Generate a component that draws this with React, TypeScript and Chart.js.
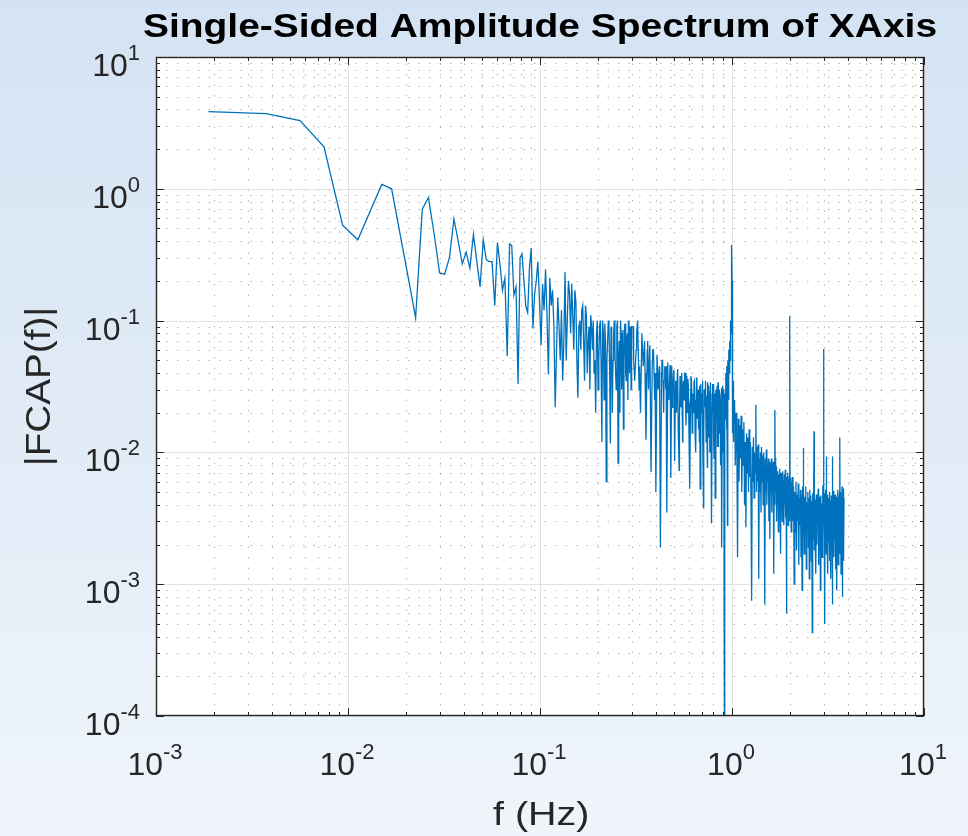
import { useEffect, useRef } from 'react';
import { Chart, registerables } from 'chart.js';

Chart.register(...registerables);

// ---------- data (FFT bins, bin width DF Hz) ----------
const DF = 0.001875;

const LOW_START = 1;
const LOW_STEP = 1;
const LOW_AMP = [
  3.85, 3.72, 3.29, 2.08, 0.53, 0.41, 0.69, 1.08, 1.0, 0.44,
  0.21, 0.105, 0.7, 0.86, 0.45, 0.23, 0.225, 0.3, 0.59, 0.4,
  0.27, 0.33, 0.25, 0.45, 0.28, 0.18, 0.41, 0.29, 0.28, 0.28,
  0.13, 0.39, 0.27, 0.17, 0.21, 0.054, 0.38, 0.37, 0.156, 0.18,
  0.033, 0.3, 0.32, 0.2, 0.128, 0.115, 0.25, 0.355, 0.087, 0.16,
  0.2, 0.28, 0.14, 0.065, 0.19, 0.12, 0.245, 0.11, 0.039, 0.21,
  0.13, 0.17, 0.09, 0.022,
];

const MID_START = 66;
const MID_STEP = 2;
const MID_AMP = [
  0.15, 0.05, 0.035, 0.235, 0.1, 0.16, 0.19, 0.06, 0.14, 0.026,
  0.1, 0.12, 0.07, 0.13, 0.04, 0.09, 0.11, 0.06, 0.04, 0.02,
  0.1, 0.05, 0.1, 0.012, 0.08, 0.095, 0.006, 0.07, 0.09, 0.0117,
  0.08, 0.05, 0.1, 0.04, 0.09, 0.0083, 0.07, 0.1, 0.03, 0.085,
  0.05, 0.095, 0.035, 0.08, 0.1, 0.04, 0.07, 0.09,
];

const MID_ODD_START = 67;
const MID_ODD_STEP = 2;
const MID_ODD_AMP = [
  0.09, 0.12, 0.07, 0.05, 0.2, 0.08, 0.11, 0.17, 0.05, 0.09,
  0.06, 0.13, 0.035, 0.11, 0.07, 0.03, 0.09, 0.1, 0.05, 0.08,
  0.03, 0.09, 0.045, 0.1, 0.025, 0.07, 0.05, 0.1, 0.04, 0.09,
  0.02, 0.08, 0.06, 0.03, 0.1, 0.05, 0.02, 0.08, 0.06, 0.015,
  0.09, 0.04, 0.07, 0.025, 0.06, 0.09, 0.03,
];

const UPPER_START = 163;
const UPPER_STEP = 3;
const UPPER_AMP = [
  0.09, 0.035, 0.06, 0.1, 0.03, 0.02, 0.08, 0.045, 0.07, 0.0125,
  0.06, 0.03, 0.065, 0.0071, 0.05, 0.06, 0.025, 0.005, 0.055, 0.03,
  0.045, 0.0019, 0.04, 0.05, 0.02, 0.045, 0.03, 0.0035, 0.048, 0.025,
  0.04, 0.0064, 0.045, 0.03, 0.042, 0.0086, 0.035, 0.02, 0.04, 0.015,
  0.0073, 0.038, 0.022, 0.04, 0.012, 0.035, 0.025, 0.04, 0.016, 0.038,
  0.02, 0.032, 0.011, 0.0053, 0.03, 0.036, 0.014, 0.028, 0.02, 0.035,
  0.013, 0.01, 0.037, 0.018, 0.03, 0.024, 0.012, 0.0053, 0.033, 0.02,
  0.028, 0.015, 0.0038, 0.03, 0.022, 0.035, 0.012, 0.027, 0.0077, 0.032,
  0.018, 0.026, 0.01, 0.034, 0.016, 0.0029, 0.028, 0.02, 0.033, 0.009,
  0.025, 0.0045, 0.03, 0.017, 0.024, 0.011, 0.034, 0.02, 0.014, 0.03,
  0.022, 0.008, 0.028, 0.0019, 0.025, 0.032, 0.012, 0.03, 0.00008, 0.028,
  0.018, 0.04, 0.022, 0.045, 0.0028, 0.05, 0.03, 0.06, 0.04, 0.07,
];

const UPPER_FILL_START = 164;
const UPPER_FILL_STEP = 6;
const UPPER_FILL_AMP = [
  0.05, 0.08, 0.045, 0.065, 0.04, 0.07, 0.035, 0.06, 0.04, 0.055,
  0.028, 0.05, 0.035, 0.045, 0.03, 0.046, 0.022, 0.04, 0.03, 0.043,
  0.018, 0.037, 0.026, 0.04, 0.02, 0.036, 0.024, 0.038, 0.017, 0.034,
  0.025, 0.036, 0.015, 0.032, 0.022, 0.035, 0.014, 0.03, 0.02, 0.034,
  0.013, 0.029, 0.021, 0.033, 0.012, 0.028, 0.019, 0.032, 0.011, 0.027,
  0.018, 0.031, 0.01, 0.028, 0.02, 0.036, 0.015, 0.042, 0.025, 0.055,
];

const PEAK_START = 521;
const PEAK_STEP = 1;
const PEAK_AMP = [
  0.05, 0.08, 0.06, 0.09, 0.07, 0.1, 0.08, 0.12, 0.09, 0.15,
  0.2, 0.3, 0.375, 0.2, 0.1, 0.06, 0.014, 0.04, 0.03, 0.035,
  0.02, 0.028, 0.012, 0.025, 0.018,
];

const HIGH_START = 550;
const HIGH_STEP = 5;
const HIGH_AMP = [
  0.025, 0.008, 0.02, 0.012, 0.0016, 0.018, 0.006, 0.016, 0.009, 0.019,
  0.005, 0.015, 0.008, 0.017, 0.004, 0.012, 0.0027, 0.014, 0.007, 0.013,
  0.005, 0.015, 0.0065, 0.012, 0.004, 0.00075, 0.011, 0.006, 0.013, 0.0045,
  0.01, 0.007, 0.012, 0.005, 0.011, 0.006, 0.0115, 0.0011, 0.009, 0.005,
  0.01, 0.0035, 0.011, 0.006, 0.0095, 0.004, 0.01, 0.0055, 0.0007, 0.009,
  0.005, 0.0105, 0.004, 0.008, 0.006, 0.009, 0.003, 0.0085, 0.0022, 0.0075,
  0.005, 0.009, 0.0035, 0.008, 0.0055, 0.0085, 0.0012, 0.0075, 0.004, 0.009,
  0.005, 0.0078, 0.003, 0.007, 0.0045, 0.0072, 0.0025, 0.0068, 0.004, 0.0075,
  0.0035, 0.0017, 0.007, 0.004, 0.0065, 0.003, 0.0072, 0.0045, 0.0062, 0.0028,
  0.0068, 0.004, 0.0074, 0.0032, 0.006, 0.0006, 0.0065, 0.0038, 0.007, 0.0028,
  0.0062, 0.0042, 0.0066, 0.003, 0.0058, 0.004, 0.0064, 0.0025, 0.006, 0.0036,
  0.0065,
];

const TOP_START = 1108;
const TOP_STEP = 8;
const TOP_AMP = [
  0.003, 0.0055, 0.001, 0.005, 0.0025, 0.006, 0.0018, 0.0048, 0.003, 0.0058,
  0.0014, 0.0045, 0.0028, 0.0052, 0.0016, 0.0048, 0.0009, 0.0055, 0.0025, 0.005,
  0.0017, 0.0046, 0.003, 0.0055, 0.0013, 0.0042, 0.0026, 0.005, 0.0019, 0.0045,
  0.0011, 0.0052, 0.0024, 0.0047, 0.0015, 0.0043, 0.00043, 0.0049, 0.0022, 0.0045,
  0.0018, 0.0051, 0.0027, 0.0044, 0.0012, 0.0048, 0.002, 0.0042, 0.0029, 0.0053,
  0.0014, 0.0046, 0.0021, 0.0043, 0.0009, 0.0047, 0.0025, 0.0041, 0.0016, 0.0056,
  0.0022, 0.0045, 0.0028, 0.0049, 0.0005, 0.0044, 0.0023, 0.0052, 0.0017, 0.0042,
  0.0026, 0.0048, 0.0012, 0.0045, 0.0021, 0.004, 0.0015, 0.005, 0.0024, 0.0043,
  0.0011, 0.0047, 0.0019, 0.0042, 0.0007, 0.0046, 0.0027, 0.0051, 0.0016, 0.0044,
  0.0022, 0.0048, 0.0013, 0.0041, 0.0025, 0.0046, 0.0009, 0.0043, 0.002, 0.0052,
  0.0014, 0.0045, 0.0027, 0.0049, 0.0017, 0.0042, 0.0023, 0.005, 0.0012, 0.0044,
  0.0026, 0.0055, 0.0008, 0.0047, 0.0021, 0.0053, 0.0015, 0.0045,
];

// isolated harmonic spikes
const SPIKE_BINS = [710, 893, 1066, 1254, 1426, 1600, 1653, 1775, 1945];
const SPIKE_AMP = [0.023, 0.021, 0.108, 0.0108, 0.0145, 0.061, 0.0093, 0.0093, 0.013];

const X_TICK_EXP = [-3, -2, -1, 0, 1];
const Y_TICK_EXP = [-4, -3, -2, -1, 0, 1];

const TITLE = 'Single-Sided Amplitude Spectrum of XAxis';
const X_TITLE = 'f (Hz)';
const Y_TITLE = '|FCAP(f)|';

// ---------- styles ----------
const FONT = '"Liberation Sans", Arial, Helvetica, sans-serif';
const LINE_COLOR = '#0072BD';
const AXIS_COLOR = '#262626';

function buildPoints() {
  const pts: { x: number; y: number }[] = [];
  const add = (start: number, step: number, amps: number[]) => {
    amps.forEach((a, i) => pts.push({ x: (start + i * step) * DF, y: a }));
  };
  add(LOW_START, LOW_STEP, LOW_AMP);
  add(MID_START, MID_STEP, MID_AMP);
  add(MID_ODD_START, MID_ODD_STEP, MID_ODD_AMP);
  add(UPPER_START, UPPER_STEP, UPPER_AMP);
  add(UPPER_FILL_START, UPPER_FILL_STEP, UPPER_FILL_AMP);
  add(PEAK_START, PEAK_STEP, PEAK_AMP);
  add(HIGH_START, HIGH_STEP, HIGH_AMP);
  add(TOP_START, TOP_STEP, TOP_AMP);
  SPIKE_BINS.forEach((b, i) => pts.push({ x: b * DF, y: SPIKE_AMP[i] }));
  pts.sort((p, q) => p.x - q.x);
  return pts;
}

function logValues(minExp: number, maxExp: number) {
  const major: number[] = [];
  const minor: number[] = [];
  for (let e = minExp; e <= maxExp; e++) {
    major.push(Math.pow(10, e));
    if (e < maxExp) for (let m = 2; m <= 9; m++) minor.push(m * Math.pow(10, e));
  }
  return { major, minor };
}

function drawFitted(
  ctx: CanvasRenderingContext2D,
  text: string,
  font: string,
  inkStart: number,
  baseline: number,
  inkWidth: number,
  vertical: boolean,
  color: string
) {
  ctx.save();
  ctx.font = font;
  ctx.fillStyle = color;
  ctx.textAlign = 'left';
  ctx.textBaseline = 'alphabetic';
  const m = ctx.measureText(text);
  const w = m.actualBoundingBoxLeft + m.actualBoundingBoxRight;
  const s = inkWidth / w;
  if (vertical) {
    ctx.translate(baseline, inkStart);
    ctx.rotate(-Math.PI / 2);
  } else {
    ctx.translate(inkStart, baseline);
  }
  ctx.scale(s, 1);
  ctx.fillText(text, m.actualBoundingBoxLeft, 0);
  ctx.restore();
}

function drawPow(ctx: CanvasRenderingContext2D, x: number, y: number, exp: number, align: 'center' | 'right') {
  const base = '10';
  const sup = String(exp);
  ctx.font = `32px ${FONT}`;
  const wb = ctx.measureText(base).width;
  ctx.font = `22px ${FONT}`;
  const ws = ctx.measureText(sup).width;
  const total = wb + ws;
  const left = align === 'center' ? x - total / 2 : x - total;
  ctx.textAlign = 'left';
  ctx.textBaseline = 'alphabetic';
  ctx.font = `32px ${FONT}`;
  ctx.fillText(base, left, y);
  ctx.font = `22px ${FONT}`;
  ctx.fillText(sup, left + wb, y - 16);
}

const decorPlugin = {
  id: 'matlabDecor',
  beforeDraw(chart: any) {
    const { ctx, chartArea: a, scales } = chart;
    const xs = scales.x;
    const ys = scales.y;
    ctx.save();
    ctx.fillStyle = '#ffffff';
    ctx.fillRect(a.left, a.top, a.right - a.left, a.bottom - a.top);

    const xv = logValues(-3, 1);
    const yv = logValues(-4, 1);

    // minor dotted grid
    ctx.strokeStyle = 'rgba(60,60,60,0.38)';
    ctx.lineWidth = 1;
    ctx.setLineDash([1.5, 9]);
    ctx.beginPath();
    xv.minor.forEach((v) => {
      const px = Math.round(xs.getPixelForValue(v)) + 0.5;
      ctx.moveTo(px, a.bottom);
      ctx.lineTo(px, a.top);
    });
    yv.minor.forEach((v) => {
      const py = Math.round(ys.getPixelForValue(v)) + 0.5;
      ctx.moveTo(a.left, py);
      ctx.lineTo(a.right, py);
    });
    ctx.stroke();

    // major solid grid
    ctx.setLineDash([]);
    ctx.strokeStyle = '#e2e2e2';
    ctx.beginPath();
    xv.major.forEach((v) => {
      const px = Math.round(xs.getPixelForValue(v)) + 0.5;
      ctx.moveTo(px, a.bottom);
      ctx.lineTo(px, a.top);
    });
    yv.major.forEach((v) => {
      const py = Math.round(ys.getPixelForValue(v)) + 0.5;
      ctx.moveTo(a.left, py);
      ctx.lineTo(a.right, py);
    });
    ctx.stroke();
    ctx.restore();
  },
  afterDatasetsDraw(chart: any) {
    const { ctx, chartArea: a, scales } = chart;
    const xs = scales.x;
    const ys = scales.y;
    const xv = logValues(-3, 1);
    const yv = logValues(-4, 1);
    ctx.save();
    ctx.strokeStyle = AXIS_COLOR;
    ctx.lineWidth = 1.4;
    ctx.setLineDash([]);
    ctx.strokeRect(a.left + 0.5, a.top + 0.5, a.right - a.left - 1, a.bottom - a.top - 1);
    ctx.lineWidth = 1;
    ctx.beginPath();
    const tickX = (v: number, len: number) => {
      const px = Math.round(xs.getPixelForValue(v)) + 0.5;
      ctx.moveTo(px, a.bottom);
      ctx.lineTo(px, a.bottom - len);
      ctx.moveTo(px, a.top);
      ctx.lineTo(px, a.top + len);
    };
    const tickY = (v: number, len: number) => {
      const py = Math.round(ys.getPixelForValue(v)) + 0.5;
      ctx.moveTo(a.left, py);
      ctx.lineTo(a.left + len, py);
      ctx.moveTo(a.right, py);
      ctx.lineTo(a.right - len, py);
    };
    xv.major.forEach((v) => tickX(v, 8));
    xv.minor.forEach((v) => tickX(v, 4));
    yv.major.forEach((v) => tickY(v, 8));
    yv.minor.forEach((v) => tickY(v, 4));
    ctx.stroke();
    ctx.restore();
  },
  afterDraw(chart: any) {
    const { ctx, chartArea: a, scales } = chart;
    const xs = scales.x;
    const ys = scales.y;
    ctx.save();
    ctx.fillStyle = AXIS_COLOR;
    X_TICK_EXP.forEach((e) => {
      const px = xs.getPixelForValue(Math.pow(10, e));
      drawPow(ctx, px - 1, a.bottom + 59, e, 'center');
    });
    Y_TICK_EXP.forEach((e) => {
      const py = ys.getPixelForValue(Math.pow(10, e));
      drawPow(ctx, 140, py + 19, e, 'right');
    });
    ctx.restore();

    drawFitted(ctx, TITLE, `bold 34px ${FONT}`, 143, 37, 793, false, '#000000');
    drawFitted(ctx, X_TITLE, `33px ${FONT}`, 493, 825, 94, false, AXIS_COLOR);
    drawFitted(ctx, Y_TITLE, `35px ${FONT}`, 463, 50, 153, true, AXIS_COLOR);
  },
};

export default function App() {
  const ref = useRef<HTMLCanvasElement | null>(null);

  useEffect(() => {
    const canvas = ref.current;
    if (!canvas) return;
    const chart = new Chart(canvas, {
      type: 'line',
      data: {
        datasets: [
          {
            label: '|FCAP(f)|',
            data: buildPoints(),
            borderColor: LINE_COLOR,
            borderWidth: 1.3,
            pointRadius: 0,
            tension: 0,
            fill: false,
          },
        ],
      },
      options: {
        animation: false,
        responsive: false,
        maintainAspectRatio: false,
        events: [],
        layout: { padding: { left: 156, right: 44, top: 57, bottom: 120 } },
        plugins: {
          legend: { display: false },
          tooltip: { enabled: false },
          title: { display: false },
        },
        scales: {
          x: { type: 'logarithmic', min: 0.001, max: 10, display: false },
          y: { type: 'logarithmic', min: 0.0001, max: 10, display: false },
        },
      },
      plugins: [decorPlugin],
    } as any);
    return () => chart.destroy();
  }, []);

  return (
    <div
      style={{
        position: 'absolute',
        left: 0,
        top: 0,
        width: 968,
        height: 836,
        background: 'linear-gradient(180deg, #d4e3f3 0%, #e2ecf7 55%, #f0f5fb 100%)',
      }}
    >
      <canvas ref={ref} width={968} height={836} style={{ display: 'block', width: 968, height: 836 }} />
    </div>
  );
}
